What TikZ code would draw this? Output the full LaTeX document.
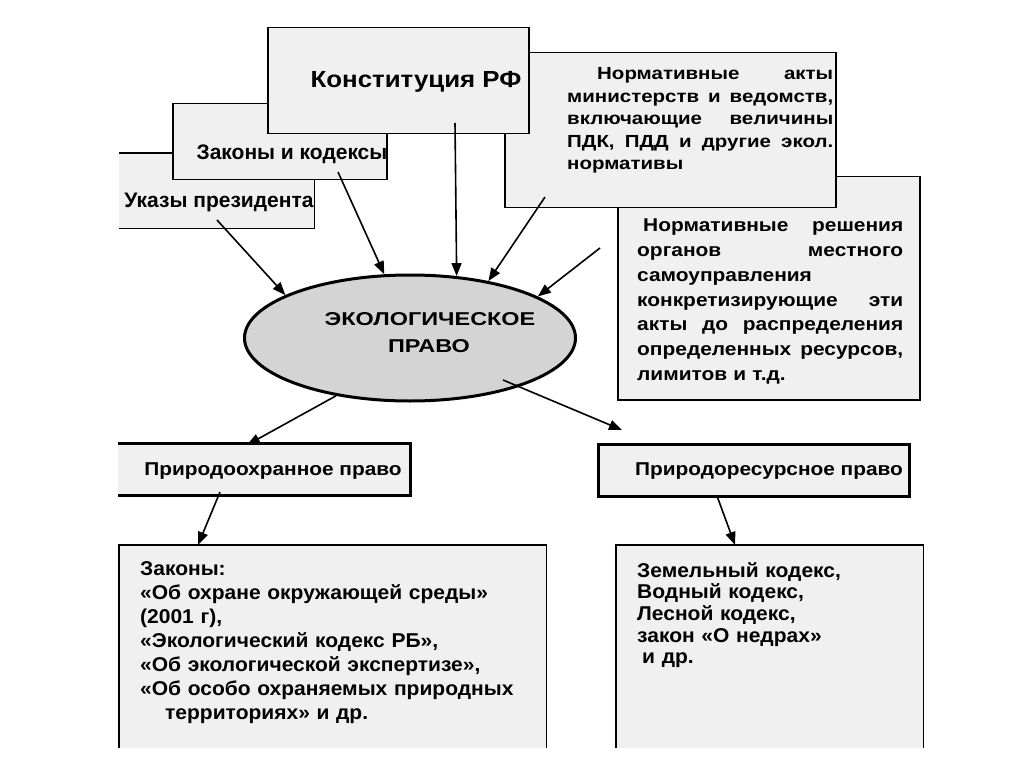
\documentclass[tikz,border=0pt]{standalone}
\usepackage{fontspec}
\setmainfont{Liberation Sans}
\newfontfamily\stK[FakeStretch=1.11]{Liberation Sans}
\newfontfamily\stNA[FakeStretch=1.17]{Liberation Sans}
\newfontfamily\stRS[FakeStretch=1.13]{Liberation Sans}
\newfontfamily\stE[FakeStretch=1.26]{Liberation Sans}
\newfontfamily\stP[FakeStretch=1.12]{Liberation Sans}
\newfontfamily\stB[FakeStretch=1.05]{Liberation Sans}
\usetikzlibrary{arrows.meta,shapes.geometric,calc}
\definecolor{boxfill}{HTML}{F0F0F0}
\definecolor{ellfill}{HTML}{D4D4D4}
\newcommand\jline[1]{\leavevmode\hbox to 266pt{#1}}
\begin{document}
\begin{tikzpicture}[x=1pt,y=-1pt,
  box/.style={rectangle,fill=boxfill,inner sep=0pt,anchor=north west},
  thinb/.style={line width=1.5pt},
  thickb/.style={line width=3pt},
  arr/.style={line width=1.6pt,-{Triangle[length=13pt,width=10pt]}},
  lbl/.style={inner sep=0pt,anchor=base},
  para/.style={inner sep=0pt,anchor=base west,align=left}]
\fill[white] (0,0) rectangle (1024,767);
\useasboundingbox (0,0) rectangle (1024,767);

% --- upper boxes (back to front)
\node[box,minimum width=195pt,minimum height=75pt] (uk) at (119,153) {};
\draw[thinb] (uk.north west) -- (uk.north east) -- (uk.south east) -- (uk.south west);
\node[box,draw,thinb,minimum width=214pt,minimum height=76pt] (zk) at (172,103) {};
\node[box,draw,thinb,minimum width=302pt,minimum height=223pt] (rs) at (617,176) {};
\node[box,draw,thinb,minimum width=331pt,minimum height=155pt] (na) at (504,52) {};
\node[box,draw,thinb,minimum width=261pt,minimum height=106pt] (kr) at (267,27) {};

\node[lbl,font=\bfseries\fontsize{21}{25}\selectfont] (ukt) at (219,208) {Указы президента};
\node[lbl,font=\bfseries\fontsize{21}{25}\selectfont] (zkt) at (292,160) {Законы и кодексы};
\node[lbl,font=\stK\bfseries\fontsize{23.3}{27}\selectfont] (krt) at (416,88) {Конституция РФ};

\node[para,text width=266pt,font=\stNA\bfseries\fontsize{17.5}{22.5}\selectfont] (nat) at (567,80) {%
\jline{\hspace*{30pt}Нормативные\hfill акты}\\
\jline{министерств\hfill и\hfill ведомств,}\\
\jline{включающие\hfill величины}\\
\jline{ПДК,\hfill ПДД\hfill и\hfill другие\hfill экол.}\\
нормативы};

\node[para,text width=266pt,font=\stRS\bfseries\fontsize{18.5}{24.7}\selectfont] (rst) at (637,232) {%
\jline{\hspace*{6pt}Нормативные\hfill решения}\\
\jline{органов\hfill местного}\\
самоуправления\\
\jline{конкретизирующие\hfill эти}\\
\jline{акты\hfill до\hfill распределения}\\
\jline{определенных\hfill ресурсов,}\\
лимитов и т.д.};

% --- ellipse
\node[ellipse,draw,line width=3pt,fill=ellfill,minimum width=331pt,minimum height=126pt,inner sep=0pt] (e) at (410,338) {};
\node[lbl,font=\stE\bfseries\fontsize{18.6}{27}\selectfont] (et1) at (430,325) {ЭКОЛОГИЧЕСКОЕ};
\node[lbl,font=\stE\bfseries\fontsize{18.6}{27}\selectfont] (et2) at (429,352) {ПРАВО};

% --- middle boxes
\node[box,minimum width=292pt,minimum height=52pt] (po) at (118,443) {};
\draw[thickb] (po.north west) -- (po.north east) -- (po.south east) -- (po.south west);
\node[lbl,font=\stP\bfseries\fontsize{18.6}{22}\selectfont] (pot) at (273,475) {Природоохранное право};
\node[box,draw,thickb,minimum width=311pt,minimum height=52pt] (pr) at (597,443) {};
\node[lbl,font=\stP\bfseries\fontsize{18.6}{22}\selectfont] (prt) at (769,475) {Природоресурсное право};

% --- lower boxes
\node[box,minimum width=427pt,minimum height=203pt] (bl) at (119,545) {};
\draw[thinb] (bl.south west) -- (bl.north west) -- (bl.north east) -- (bl.south east);
\node[box,minimum width=307pt,minimum height=203pt] (br) at (616,545) {};
\draw[thinb] (br.south west) -- (br.north west) -- (br.north east) -- (br.south east);

\node[para,text width=420pt,font=\stB\bfseries\fontsize{20}{24}\selectfont] (blt) at (140,575) {%
Законы:\\
«Об охране окружающей среды»\\
(2001 г),\\
«Экологический кодекс РБ»,\\
«Об экологической экспертизе»,\\
«Об особо охраняемых природных\\
\hspace*{25pt}территориях» и др.};

\node[para,text width=280pt,font=\stB\bfseries\fontsize{20}{21.7}\selectfont] (brt) at (637,577) {%
Земельный кодекс,\\
Водный кодекс,\\
Лесной кодекс,\\
закон «О недрах»\\
\hspace*{5pt}и др.};

% --- connectors
\coordinate (s1) at (217,220);
\coordinate (s2) at (338,172);
\coordinate (s3) at (455,123);
\coordinate (s4) at (545,197);
\coordinate (s5) at (600,248);
\draw[arr] (s1) -- (e.161);
\draw[arr] (s2) -- (e.112);
\draw[arr] (s3) -- (e.53);
\draw[arr] (s4) -- (e.36);
\draw[arr] (s5) -- (e.18);

\coordinate (t1) at ($(po.north west)+(129,2)$);
\coordinate (t2) at (622,430);
\coordinate (s6) at ($(e.center)+(93,42)$);
\draw[arr] (e.218) -- (t1);
\draw[arr] (s6) -- (t2);

\coordinate (s7) at (220,492);
\coordinate (s8) at (717,496);
\draw[arr] (s7) -- ($(bl.north west)+(79,0)$);
\draw[arr] (s8) -- ($(br.north west)+(119,0)$);
\end{tikzpicture}
\end{document}
